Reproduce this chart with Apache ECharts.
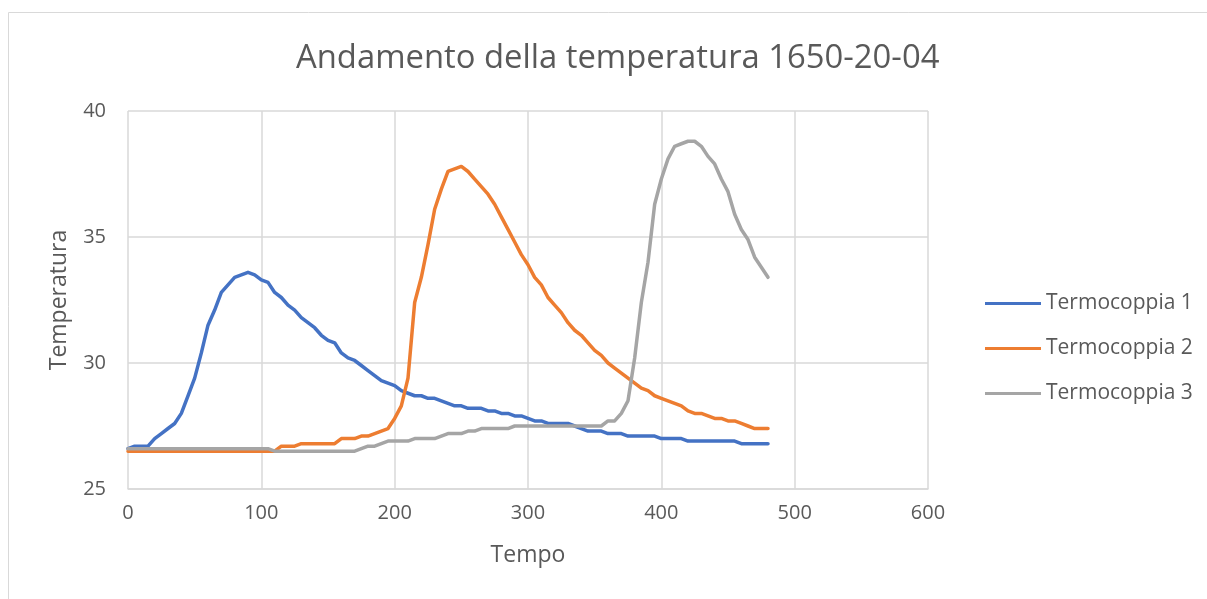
<!DOCTYPE html>
<html>
<head>
<meta charset="utf-8">
<script src="https://cdn.jsdelivr.net/npm/echarts@6/dist/echarts.min.js"></script>
<style>
  html, body { margin: 0; padding: 0; background: #fff; }
  #main { width: 1207px; height: 599px; }
</style>
</head>
<body>
<div id="main"></div>
<script>
// tempo: 0..480 ogni 5
var tempo = [];
for (var t = 0; t <= 480; t += 5) tempo.push(t);

var termocoppia1 = [
  26.6, 26.7, 26.7, 26.7, 27.0, 27.2, 27.4, 27.6, 28.0, 28.7,
  29.4, 30.4, 31.5, 32.1, 32.8, 33.1, 33.4, 33.5, 33.6, 33.5,
  33.3, 33.2, 32.8, 32.6, 32.3, 32.1, 31.8, 31.6, 31.4, 31.1,
  30.9, 30.8, 30.4, 30.2, 30.1, 29.9, 29.7, 29.5, 29.3, 29.2,
  29.1, 28.9, 28.8, 28.7, 28.7, 28.6, 28.6, 28.5, 28.4, 28.3,
  28.3, 28.2, 28.2, 28.2, 28.1, 28.1, 28.0, 28.0, 27.9, 27.9,
  27.8, 27.7, 27.7, 27.6, 27.6, 27.6, 27.6, 27.5, 27.4, 27.3,
  27.3, 27.3, 27.2, 27.2, 27.2, 27.1, 27.1, 27.1, 27.1, 27.1,
  27.0, 27.0, 27.0, 27.0, 26.9, 26.9, 26.9, 26.9, 26.9, 26.9,
  26.9, 26.9, 26.8, 26.8, 26.8, 26.8, 26.8
];

var termocoppia2 = [
  26.5, 26.5, 26.5, 26.5, 26.5, 26.5, 26.5, 26.5, 26.5, 26.5,
  26.5, 26.5, 26.5, 26.5, 26.5, 26.5, 26.5, 26.5, 26.5, 26.5,
  26.5, 26.5, 26.5, 26.7, 26.7, 26.7, 26.8, 26.8, 26.8, 26.8,
  26.8, 26.8, 27.0, 27.0, 27.0, 27.1, 27.1, 27.2, 27.3, 27.4,
  27.8, 28.3, 29.4, 32.4, 33.4, 34.7, 36.1, 36.9, 37.6, 37.7,
  37.8, 37.6, 37.3, 37.0, 36.7, 36.3, 35.8, 35.3, 34.8, 34.3,
  33.9, 33.4, 33.1, 32.6, 32.3, 32.0, 31.6, 31.3, 31.1, 30.8,
  30.5, 30.3, 30.0, 29.8, 29.6, 29.4, 29.2, 29.0, 28.9, 28.7,
  28.6, 28.5, 28.4, 28.3, 28.1, 28.0, 28.0, 27.9, 27.8, 27.8,
  27.7, 27.7, 27.6, 27.5, 27.4, 27.4, 27.4
];

var termocoppia3 = [
  26.6, 26.6, 26.6, 26.6, 26.6, 26.6, 26.6, 26.6, 26.6, 26.6,
  26.6, 26.6, 26.6, 26.6, 26.6, 26.6, 26.6, 26.6, 26.6, 26.6,
  26.6, 26.6, 26.5, 26.5, 26.5, 26.5, 26.5, 26.5, 26.5, 26.5,
  26.5, 26.5, 26.5, 26.5, 26.5, 26.6, 26.7, 26.7, 26.8, 26.9,
  26.9, 26.9, 26.9, 27.0, 27.0, 27.0, 27.0, 27.1, 27.2, 27.2,
  27.2, 27.3, 27.3, 27.4, 27.4, 27.4, 27.4, 27.4, 27.5, 27.5,
  27.5, 27.5, 27.5, 27.5, 27.5, 27.5, 27.5, 27.5, 27.5, 27.5,
  27.5, 27.5, 27.7, 27.7, 28.0, 28.5, 30.2, 32.4, 34.0, 36.3,
  37.3, 38.1, 38.6, 38.7, 38.8, 38.8, 38.6, 38.2, 37.9, 37.3,
  36.8, 35.9, 35.3, 34.9, 34.2, 33.8, 33.4
];

var nomiSerie = ['Termocoppia 1', 'Termocoppia 2', 'Termocoppia 3'];
var colori = ['#4472C4', '#ED7D31', '#A5A5A5'];

function coppie(valori) {
  return tempo.map(function (x, i) { return [x, valori[i]]; });
}

var font = '"Open Sans", "Liberation Sans", sans-serif';
var grigioTesto = '#595959';

var myChart = echarts.init(document.getElementById('main'));
var option = {
  animation: false,
  textStyle: { fontFamily: font },
  title: {
    text: 'Andamento della temperatura 1650-20-04',
    left: 291,
    top: 37,
    textStyle: { fontFamily: font, fontSize: 32.8, fontWeight: 'normal', color: grigioTesto }
  },
  graphic: [{
    type: 'rect',
    shape: { x: 8.5, y: 12.5, width: 1400, height: 800 },
    style: { fill: 'none', stroke: '#d9d9d9', lineWidth: 1 },
    silent: true
  }],
  legend: {
    orient: 'vertical',
    left: 980,
    top: 288,
    itemWidth: 56,
    itemHeight: 3,
    itemGap: 24,
    icon: 'rect',
    data: nomiSerie,
    textStyle: { fontFamily: font, fontSize: 21, color: grigioTesto }
  },
  grid: { left: 128, right: 279, top: 111, bottom: 110 },
  xAxis: {
    type: 'value',
    min: 0, max: 600, interval: 100,
    name: 'Tempo',
    nameLocation: 'middle',
    nameGap: 55,
    nameTextStyle: { fontSize: 23, color: grigioTesto },
    axisLine: { show: true, lineStyle: { color: '#d9d9d9', width: 1.5 } },
    axisTick: { show: false },
    axisLabel: { fontSize: 20, color: grigioTesto, margin: 14 },
    splitLine: { show: true, lineStyle: { color: '#d9d9d9', width: 1.5 } }
  },
  yAxis: {
    type: 'value',
    min: 25, max: 40, interval: 5,
    name: 'Temperatura',
    nameLocation: 'middle',
    nameGap: 57,
    nameTextStyle: { fontSize: 23, color: grigioTesto },
    axisLine: { show: false },
    axisTick: { show: false },
    axisLabel: { fontSize: 20, color: grigioTesto, margin: 22 },
    splitLine: { show: true, lineStyle: { color: '#d9d9d9', width: 1.5 } }
  },
  series: [
    { name: nomiSerie[0], type: 'line', data: coppie(termocoppia1) },
    { name: nomiSerie[1], type: 'line', data: coppie(termocoppia2) },
    { name: nomiSerie[2], type: 'line', data: coppie(termocoppia3) }
  ].map(function (s, i) {
    s.showSymbol = false;
    s.symbol = 'none';
    s.color = colori[i];
    s.lineStyle = { width: 3.5, color: colori[i], cap: 'round', join: 'round' };
    return s;
  })
};
myChart.setOption(option);
window.addEventListener('resize', function () {
  myChart.resize();
});
</script>
</body>
</html>
